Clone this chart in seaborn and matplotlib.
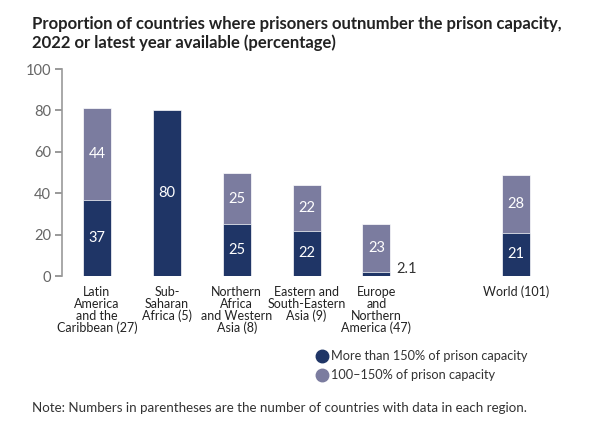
import matplotlib
matplotlib.use("Agg")
import matplotlib.pyplot as plt
from matplotlib.lines import Line2D
import pandas as pd
import seaborn as sns

regions = [
    "Latin\nAmerica\nand the\nCaribbean (27)",
    "Sub-\nSaharan\nAfrica (5)",
    "Northern\nAfrica\nand Western\nAsia (8)",
    "Eastern and\nSouth-Eastern\nAsia (9)",
    "Europe\nand\nNorthern\nAmerica (47)",
    "World (101)",
]
over_150 = [37, 80, 25, 22, 2.1, 21]
between_100_150 = [44, 0, 25, 22, 23, 28]

DARK = "#1f3566"
LIGHT = "#7b7c9f"

sns.set_style("white")
plt.rcParams["font.family"] = ["Lato", "DejaVu Sans"]

df = pd.DataFrame({
    "region": regions,
    "over": over_150,
    "mid": between_100_150,
})
df["total"] = df["over"] + df["mid"]

# blank slot puts a gap before the World bar
order = regions[:5] + [" "] + regions[5:]

fig = plt.figure(figsize=(6.05, 4.21), dpi=100)
ax = fig.add_axes([0.1025, 0.344, 0.82, 0.492])

sns.barplot(data=df, x="region", y="total", order=order, color=LIGHT,
            width=0.4, saturation=1, ax=ax, edgecolor="white", linewidth=0.5)
sns.barplot(data=df, x="region", y="over", order=order, color=DARK,
            width=0.4, saturation=1, ax=ax, edgecolor="white", linewidth=0.5)

pos = {r: order.index(r) for r in regions}
for _, row in df.iterrows():
    x = pos[row["region"]]
    if row["over"] >= 5:
        ax.text(x, row["over"] / 2, f"{row['over']:g}", color="white",
                ha="center", va="center", fontsize=10.5)
    else:
        ax.text(x + 0.28, row["over"] + 1.4, f"{row['over']:g}", color="#333333",
                ha="left", va="center", fontsize=10.5)
    if row["mid"] > 0:
        ax.text(x, row["over"] + row["mid"] / 2, f"{row['mid']:g}", color="white",
                ha="center", va="center", fontsize=10.5)

ax.set_xlim(-0.5, 6.6)
ax.set_ylim(0, 100)
ax.set_yticks(range(0, 101, 20))
ax.set_xticks([pos[r] for r in regions])
ax.set_xticklabels(regions, fontsize=9, color="#222222", linespacing=1.0)
ax.set_xlabel("")
ax.set_ylabel("")
ax.tick_params(axis="y", left=True, length=5, width=1.2, color="#888888",
               labelcolor="#666666", labelsize=10.5, pad=3)
ax.tick_params(axis="x", length=0, pad=7)
for side in ["top", "right", "bottom"]:
    ax.spines[side].set_visible(False)
ax.spines["left"].set_color("#999999")
ax.spines["left"].set_linewidth(1.2)

fig.text(0.053, 0.962, "Proportion of countries where prisoners outnumber the prison capacity,\n"
         "2022 or latest year available (percentage)", fontsize=12, fontweight="bold",
         color="#222222", va="top", ha="left", linespacing=1.2)

handles = [
    Line2D([], [], marker="o", linestyle="", markersize=9, color=DARK),
    Line2D([], [], marker="o", linestyle="", markersize=9, color=LIGHT),
]
fig.legend(handles, ["More than 150% of prison capacity", "100\u2013150% of prison capacity"],
           loc="upper left", bbox_to_anchor=(0.5, 0.196), frameon=False,
           fontsize=9.2, handletextpad=0.1, labelspacing=0.55, handlelength=1.2,
           labelcolor="#333333")

fig.text(0.053, 0.031, "Note: Numbers in parentheses are the number of countries with data in each region.",
         fontsize=9.6, color="#333333", ha="left", va="center")

fig.savefig("out.png", dpi=100)
